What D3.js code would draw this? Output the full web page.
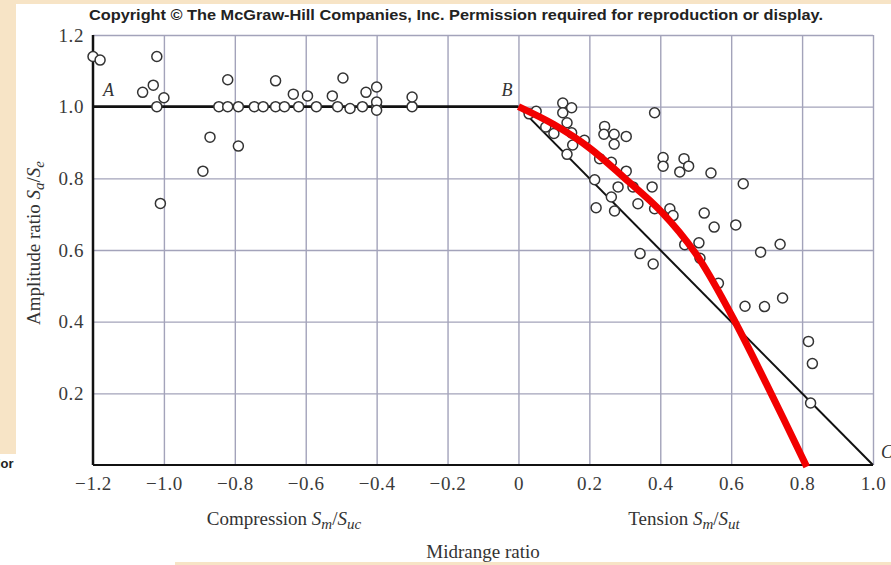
<!DOCTYPE html>
<html>
<head>
<meta charset="utf-8">
<script src="https://cdn.jsdelivr.net/npm/d3@7"></script>
<style>
  body { margin: 0; background: #fff; }
  svg { display: block; }
</style>
</head>
<body>
<div class="canvas"></div>
<script>
// tick values and labels
const xTickVals = [-1.2, -1.0, -0.8, -0.6, -0.4, -0.2, 0, 0.2, 0.4, 0.6, 0.8, 1.0];
const xTickLabels = ["\u22121.2", "\u22121.0", "\u22120.8", "\u22120.6", "\u22120.4", "\u22120.2", "0", "0.2", "0.4", "0.6", "0.8", "1.0"];
const yTickVals = [0.2, 0.4, 0.6, 0.8, 1.0, 1.2];
const yTickLabels = ["0.2", "0.4", "0.6", "0.8", "1.0", "1.2"];

// test points, compression side
const compX = [-1.20, -1.18, -1.02, -1.06, -1.03, -1.00, -1.02, -1.01, -0.89, -0.87, -0.79, -0.82,
    -0.845, -0.82, -0.79, -0.745, -0.72, -0.685, -0.66, -0.62, -0.57, -0.51, -0.475, -0.44, -0.40, -0.30,
    -0.685, -0.635, -0.595, -0.525, -0.495, -0.43, -0.40, -0.40, -0.40, -0.30];
const compY = [1.14, 1.13, 1.14, 1.04, 1.06, 1.025, 1.0, 0.73, 0.82, 0.915, 0.89, 1.075,
    1.0, 1.0, 1.0, 1.0, 1.0, 1.0, 1.0, 1.0, 1.0, 1.0, 0.995, 1.0, 1.0, 1.0,
    1.072, 1.035, 1.03, 1.03, 1.08, 1.04, 1.055, 1.013, 0.99, 1.027];

// test points, tension side
const tensX = [0.03, 0.05, 0.125, 0.15, 0.125, 0.137, 0.077, 0.10, 0.15, 0.153, 0.137, 0.186, 0.243, 0.241,
    0.27, 0.27, 0.304, 0.384, 0.229, 0.262, 0.304, 0.215, 0.281, 0.323, 0.377, 0.408, 0.408, 0.467, 0.48,
    0.455, 0.543, 0.634, 0.262, 0.219, 0.271, 0.337, 0.384, 0.427, 0.436, 0.524, 0.552, 0.613, 0.469,
    0.509, 0.512, 0.343, 0.38, 0.683, 0.738, 0.564, 0.639, 0.694, 0.745, 0.818, 0.829, 0.824];
const tensY = [0.98, 0.987, 1.01, 0.997, 0.983, 0.955, 0.943, 0.925, 0.927, 0.893, 0.867, 0.906, 0.945, 0.923,
    0.923, 0.895, 0.917, 0.983, 0.855, 0.845, 0.82, 0.796, 0.776, 0.776, 0.776, 0.858, 0.834, 0.855, 0.834,
    0.818, 0.815, 0.785, 0.748, 0.718, 0.709, 0.729, 0.715, 0.715, 0.696, 0.703, 0.664, 0.67, 0.615,
    0.62, 0.577, 0.59, 0.561, 0.594, 0.616, 0.507, 0.443, 0.442, 0.466, 0.345, 0.283, 0.173];

// failure lines A-B, B-C
const abX = [-1.2, 0], abY = [1, 1];
const bcX = [0, 1], bcY = [1, 0];

// red hand drawn curve
const curveX = [0, 0.1, 0.2, 0.3, 0.4, 0.5, 0.6, 0.7, 0.813];
const curveY = [1.0, 0.95, 0.885, 0.80, 0.71, 0.59, 0.42, 0.225, -0.005];

const W = 891, H = 565;
const svg = d3.select('.canvas').append('svg')
    .attr('width', W)
    .attr('height', H);

// beige page bits around the slide
const beige = '#f7e4c6';
svg.append('rect').attr('x', 0).attr('y', 0).attr('width', W).attr('height', H).attr('fill', '#fff');
svg.append('rect').attr('x', 0).attr('y', 0).attr('width', W).attr('height', 4).attr('fill', beige);
svg.append('rect').attr('x', 0).attr('y', 0).attr('width', 16).attr('height', 454).attr('fill', beige);
svg.append('rect').attr('x', 175).attr('y', 562).attr('width', W - 175).attr('height', 3).attr('fill', beige);
svg.append('text')
    .attr('x', -3).attr('y', 468)
    .attr('font-family', 'Liberation Sans, Arial, sans-serif')
    .attr('font-weight', 'bold')
    .attr('font-size', 13)
    .attr('fill', '#222')
    .text('ior');

const x = d3.scaleLinear().domain([-1.2, 1.0]).range([93, 873]);
const y = d3.scaleLinear().domain([0, 1.2]).range([465, 35]);

const gridColor = '#a3a3ba';
const serif = 'Liberation Serif, Times New Roman, serif';

// grid
const xGrid = svg.append('g')
    .attr('transform', `translate(0,${y(0)})`)
    .call(d3.axisBottom(x).tickValues(xTickVals.slice(1)).tickSize(-(y(0) - y(1.2))).tickFormat(''));
const yGrid = svg.append('g')
    .attr('transform', `translate(${x(-1.2)},0)`)
    .call(d3.axisLeft(y).tickValues(yTickVals).tickSize(-(x(1.0) - x(-1.2))).tickFormat(''));
[xGrid, yGrid].forEach(g => {
    g.select('.domain').remove();
    g.selectAll('line').attr('stroke', gridColor).attr('stroke-width', 1.4);
});

// tick labels
const xAxisG = svg.append('g')
    .attr('transform', `translate(0,${y(0)})`)
    .call(d3.axisBottom(x).tickValues(xTickVals).tickSize(0).tickPadding(12)
        .tickFormat((d, i) => xTickLabels[i]));
const yAxisG = svg.append('g')
    .attr('transform', `translate(${x(-1.2)},0)`)
    .call(d3.axisLeft(y).tickValues(yTickVals).tickSize(0).tickPadding(9)
        .tickFormat((d, i) => yTickLabels[i]));
[xAxisG, yAxisG].forEach(g => {
    g.select('.domain').remove();
    g.selectAll('text')
        .attr('font-family', serif)
        .attr('font-size', 19)
        .attr('letter-spacing', 0.6)
        .attr('fill', '#3a3a3a');
});

// black axis lines
svg.append('line')
    .attr('x1', x(-1.2)).attr('x2', x(-1.2)).attr('y1', y(1.2)).attr('y2', y(0))
    .attr('stroke', '#111').attr('stroke-width', 2.5);
svg.append('line')
    .attr('x1', x(-1.2)).attr('x2', x(1.0)).attr('y1', y(0)).attr('y2', y(0))
    .attr('stroke', '#111').attr('stroke-width', 2.2);

const line = d3.line().x(d => x(d[0])).y(d => y(d[1]));

svg.append('path')
    .attr('d', line(d3.zip(abX, abY)))
    .attr('fill', 'none').attr('stroke', '#111').attr('stroke-width', 2.6);
svg.append('path')
    .attr('d', line(d3.zip(bcX, bcY)))
    .attr('fill', 'none').attr('stroke', '#111').attr('stroke-width', 2);

// circles
const pts = d3.zip(compX, compY).concat(d3.zip(tensX, tensY));
svg.append('g').selectAll('circle')
    .data(pts)
    .enter().append('circle')
    .attr('cx', d => x(d[0]))
    .attr('cy', d => y(d[1]))
    .attr('r', 5)
    .attr('fill', '#fff')
    .attr('stroke', '#333')
    .attr('stroke-width', 1.5);

// red curve
svg.append('path')
    .attr('d', d3.line().x(d => x(d[0])).y(d => y(d[1])).curve(d3.curveCatmullRom.alpha(0.5))(d3.zip(curveX, curveY)))
    .attr('fill', 'none')
    .attr('stroke', '#f20000')
    .attr('stroke-width', 7);

// point labels
[['A', x(-1.2) + 10, y(1.0) - 11], ['B', x(0) - 17, y(1.0) - 11], ['C', x(1.0) + 8, y(0) - 7]].forEach(l => {
    svg.append('text')
        .attr('x', l[1]).attr('y', l[2])
        .attr('font-family', serif).attr('font-style', 'italic')
        .attr('font-size', 18).attr('fill', '#333')
        .text(l[0]);
});

// title line
svg.append('text')
    .attr('x', 456).attr('y', 20)
    .attr('text-anchor', 'middle')
    .attr('font-family', 'Liberation Sans Narrow, Arial Narrow, Liberation Sans, sans-serif')
    .attr('font-weight', 'bold')
    .attr('font-size', 14)
    .attr('fill', '#222')
    .attr('textLength', 734)
    .attr('lengthAdjust', 'spacingAndGlyphs')
    .text('Copyright \u00a9 The McGraw-Hill Companies, Inc. Permission required for reproduction or display.');

// label with italic S and subscripts
const ratioLabel = (g, pre, a, b) => {
    const t = g.append('text')
        .attr('font-family', serif).attr('font-size', 19).attr('fill', '#333');
    t.append('tspan').text(pre);
    t.append('tspan').attr('font-style', 'italic').text('S');
    t.append('tspan').attr('font-style', 'italic').attr('font-size', 15).attr('dy', 4).text(a);
    t.append('tspan').attr('dy', -4).text('/');
    t.append('tspan').attr('font-style', 'italic').text('S');
    t.append('tspan').attr('font-style', 'italic').attr('font-size', 15).attr('dy', 4).text(b);
    return t;
};

ratioLabel(svg, 'Compression ', 'm', 'uc')
    .attr('x', 284).attr('y', 525).attr('text-anchor', 'middle');
ratioLabel(svg, 'Tension ', 'm', 'ut')
    .attr('x', 684).attr('y', 525).attr('text-anchor', 'middle');

svg.append('text')
    .attr('x', 483).attr('y', 558)
    .attr('text-anchor', 'middle')
    .attr('font-family', serif).attr('font-size', 19).attr('fill', '#333')
    .text('Midrange ratio');

ratioLabel(svg, 'Amplitude ratio ', 'a', 'e')
    .attr('text-anchor', 'middle')
    .attr('transform', 'translate(40,243) rotate(-90)');
</script>
</body>
</html>
